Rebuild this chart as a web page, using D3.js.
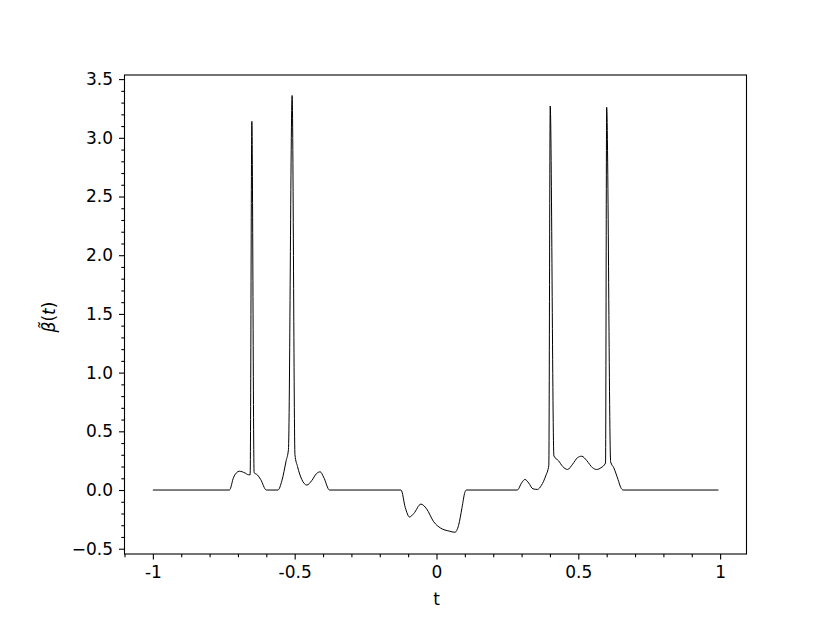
<!DOCTYPE html>
<html><head><meta charset="utf-8">
<script src="https://cdn.jsdelivr.net/npm/d3@7"></script>
<style>body{margin:0;background:#fff;} svg{display:block;}</style>
</head><body>
<svg id="chart" width="830" height="623"></svg>
<script>
const tValues = [-1.00,-0.730,-0.715,-0.695,-0.675,-0.663,-0.657,-0.651,-0.643,-0.632,-0.620,-0.600,-0.559,-0.545,-0.530,-0.522,-0.509,-0.499,-0.490,-0.475,-0.457,-0.440,-0.423,-0.410,-0.398,-0.377,
 -0.125,-0.110,-0.095,-0.080,-0.055,-0.035,-0.010,0.015,0.045,0.065,0.078,0.090,0.100,0.105,
 0.285,0.300,0.312,0.325,0.340,0.356,0.370,0.385,0.396,0.401,0.414,0.430,0.445,0.462,0.480,0.497,0.512,0.530,0.550,0.565,0.580,0.596,0.600,0.614,0.625,0.640,0.650,0.658,0.994];
const betaValues = [0,0,0.11,0.16,0.145,0.13,0.13,3.14,0.147,0.13,0.09,0,0,0.08,0.25,0.345,3.36,0.30,0.2,0.09,0.042,0.08,0.14,0.155,0.11,0,
 0,-0.15,-0.23,-0.2,-0.12,-0.16,-0.27,-0.325,-0.35,-0.36,-0.30,-0.15,-0.02,0,
 0,0.06,0.09,0.06,0.01,0.005,0.04,0.12,0.21,3.27,0.29,0.25,0.2,0.175,0.22,0.275,0.288,0.25,0.19,0.175,0.19,0.23,3.26,0.24,0.19,0.09,0.02,0,0];
const xTicks = [-1,-0.5,0,0.5,1];
const xTickLabels = ["-1","-0.5","0","0.5","1"];
const yTicks = [-0.5,0,0.5,1,1.5,2,2.5,3,3.5];
const yTickLabels = ["\u22120.5","0.0","0.5","1.0","1.5","2.0","2.5","3.0","3.5"];

const svg = d3.select("#chart");
const L=124.5, R=746.5, T=75, B=554;
const x = d3.scaleLinear().domain([-1.1,1.093]).range([L,R]);
const y = d3.scaleLinear().domain([-0.545,3.535]).range([B,T]);
const font = "'DejaVu Sans', sans-serif";

const minorX = d3.range(-11,11).map(i=>i/10).filter(v=>!xTicks.some(t=>Math.abs(t-v)<1e-9));
const minorY = d3.range(-5,36).map(i=>i/10).filter(v=>!yTicks.some(t=>Math.abs(t-v)<1e-9));

const xAxis = svg.append("g").attr("transform",`translate(0,${B})`)
  .call(d3.axisBottom(x).tickValues(xTicks).tickFormat((d,i)=>xTickLabels[i]).tickSize(5.5).tickPadding(6));
const xAxisMinor = svg.append("g").attr("transform",`translate(0,${B})`)
  .call(d3.axisBottom(x).tickValues(minorX).tickFormat("").tickSize(3.2));
const yAxis = svg.append("g").attr("transform",`translate(${L},0)`)
  .call(d3.axisLeft(y).tickValues(yTicks).tickFormat((d,i)=>yTickLabels[i]).tickSize(5.5).tickPadding(6));
const yAxisMinor = svg.append("g").attr("transform",`translate(${L},0)`)
  .call(d3.axisLeft(y).tickValues(minorY).tickFormat("").tickSize(3.2));
[xAxis,xAxisMinor,yAxis,yAxisMinor].forEach(g=>{
  g.select(".domain").remove();
  g.selectAll("line").attr("stroke","#000").attr("stroke-width",1.1);
  g.selectAll("text").attr("font-family",font).attr("font-size",17).attr("fill","#000");
});

svg.append("rect").attr("x",L).attr("y",T).attr("width",R-L).attr("height",B-T)
  .attr("fill","none").attr("stroke","#000").attr("stroke-width",1.1);

const pts = tValues.map((t,i)=>[t,betaValues[i]]);
svg.append("path").datum(pts)
  .attr("d", d3.line().x(d=>x(d[0])).y(d=>y(d[1])).curve(d3.curveMonotoneX))
  .attr("fill","none").attr("stroke","#000").attr("stroke-width",1);

svg.append("text").attr("x",x(0)).attr("y",605).attr("text-anchor","middle")
  .attr("font-family",font).attr("font-size",17).text("t");

const yl = svg.append("text").attr("transform","translate(55,317) rotate(-90)")
  .attr("text-anchor","middle").attr("font-family",font).attr("font-size",17);
yl.append("tspan").attr("font-style","italic").text("\u03B2\u0303");
yl.append("tspan").text("(");
yl.append("tspan").attr("font-style","italic").text("t");
yl.append("tspan").text(")");
</script>
</body></html>
